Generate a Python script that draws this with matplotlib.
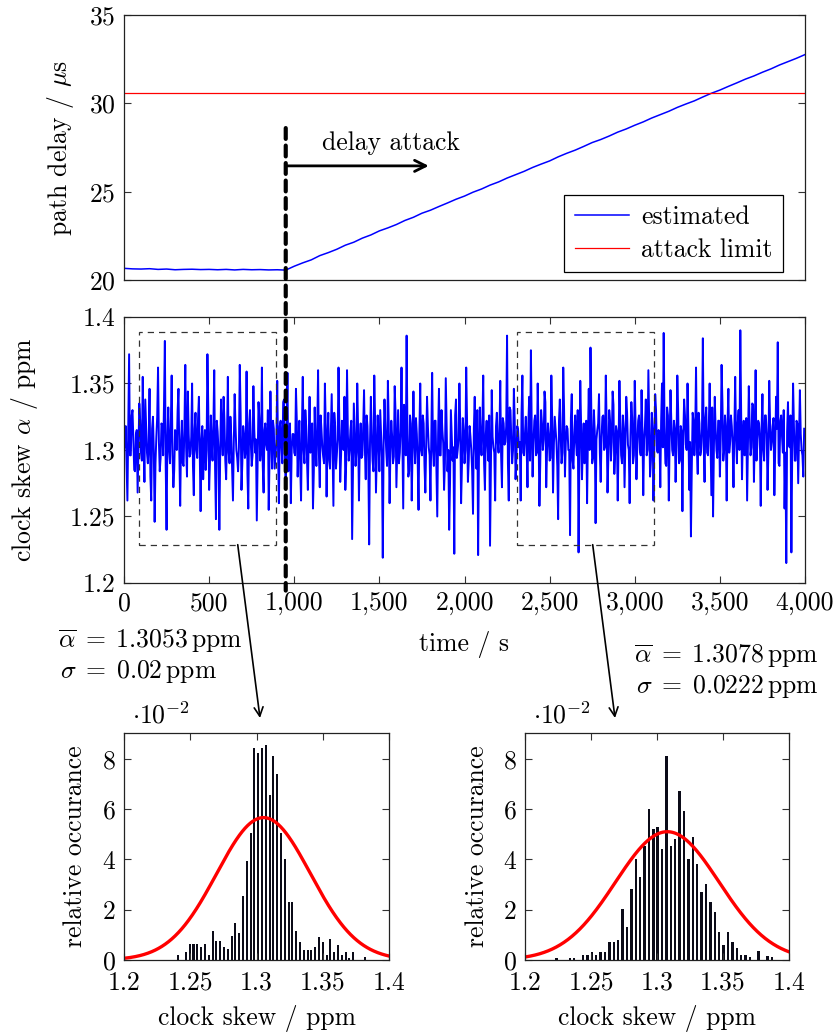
import numpy as np
import matplotlib.pyplot as plt
from matplotlib.patches import Rectangle, ConnectionPatch
from matplotlib.ticker import FuncFormatter

plt.rcParams['font.family'] = 'cmr10'
plt.rcParams['mathtext.fontset'] = 'cm'
plt.rcParams['axes.formatter.use_mathtext'] = True
plt.rcParams['font.size'] = 18.5

# ---- data ----
# path delay (us), sampled every 50 s
delay_time_s = list(range(0, 4001, 50))
delay_us = [20.66, 20.63, 20.62, 20.64, 20.60, 20.62, 20.58, 20.60, 20.61, 20.59,
            20.60, 20.58, 20.60, 20.57, 20.60, 20.58, 20.59, 20.57, 20.58, 20.56,
            20.78, 20.97, 21.14, 21.38, 21.55, 21.74, 21.97, 22.14, 22.37, 22.55,
            22.78, 22.95, 23.14, 23.37, 23.55, 23.78, 23.95, 24.16, 24.36, 24.57,
            24.75, 24.97, 25.15, 25.37, 25.55, 25.77, 25.96, 26.15, 26.37, 26.56,
            26.74, 26.97, 27.17, 27.35, 27.56, 27.78, 27.95, 28.15, 28.37, 28.55,
            28.76, 28.95, 29.17, 29.36, 29.55, 29.77, 29.96, 30.14, 30.36, 30.57,
            30.75, 30.96, 31.16, 31.37, 31.55, 31.76, 31.95, 32.17, 32.36, 32.55,
            32.76]
attack_limit_us = 30.6
attack_start_s = 950

# clock skew (ppm * 1000): samples at t = 0, 10, 20, ... (incl. the spikes)
skew_time_s = list(range(0, 4000, 10))
skew_ppb = [
    1305, 1318, 1262, 1372, 1296, 1330, 1285, 1312, 1268, 1335, 1298, 1355, 1276, 1318, 1290, 1346, 1262, 1325, 1246, 1310,
    1362, 1284, 1320, 1296, 1382, 1240, 1332, 1290, 1356, 1272, 1315, 1300, 1346, 1258, 1322, 1288, 1364, 1280, 1312, 1297,
    1350, 1266, 1328, 1294, 1340, 1254, 1318, 1302, 1285, 1372, 1270, 1326, 1292, 1360, 1248, 1314, 1240, 1338, 1296, 1322,
    1278, 1355, 1290, 1310, 1262, 1342, 1300, 1284, 1364, 1270, 1318, 1294, 1359, 1256, 1330, 1288, 1348, 1298, 1247, 1336,
    1292, 1362, 1268, 1320, 1300, 1255, 1344, 1286, 1316, 1296, 1352, 1260, 1322, 1290, 1338, 1275, 1358, 1305, 1260, 1312,
    1298, 1346, 1280, 1322, 1262, 1355, 1290, 1318, 1270, 1340, 1302, 1256, 1332, 1288, 1360, 1272, 1315, 1295, 1350, 1265,
    1328, 1286, 1342, 1258, 1318, 1296, 1362, 1276, 1322, 1300, 1270, 1360, 1292, 1315, 1233, 1335, 1288, 1350, 1262, 1320,
    1296, 1345, 1278, 1318, 1229, 1340, 1292, 1356, 1268, 1326, 1284, 1312, 1219, 1338, 1300, 1352, 1260, 1322, 1290, 1348,
    1272, 1330, 1298, 1362, 1256, 1318, 1386, 1280, 1326, 1262, 1344, 1290, 1312, 1255, 1350, 1296, 1320, 1268, 1340, 1302,
    1262, 1358, 1288, 1322, 1250, 1346, 1296, 1315, 1270, 1354, 1284, 1240, 1330, 1292, 1222, 1338, 1300, 1350, 1260, 1324,
    1290, 1362, 1276, 1318, 1300, 1252, 1340, 1286, 1221, 1332, 1296, 1356, 1270, 1322, 1292, 1228, 1345, 1302, 1262, 1328,
    1298, 1352, 1272, 1320, 1306, 1386, 1262, 1330, 1290, 1346, 1278, 1318, 1302, 1262, 1356, 1296, 1325, 1272, 1340, 1375,
    1280, 1322, 1296, 1350, 1258, 1330, 1300, 1344, 1272, 1320, 1292, 1356, 1268, 1325, 1306, 1248, 1338, 1290, 1362, 1280,
    1318, 1300, 1236, 1342, 1286, 1326, 1296, 1223, 1352, 1278, 1320, 1304, 1260, 1346, 1377, 1290, 1330, 1245, 1315, 1342,
    1276, 1325, 1300, 1356, 1268, 1330, 1292, 1344, 1282, 1318, 1262, 1352, 1296, 1326, 1272, 1340, 1304, 1260, 1336, 1290,
    1352, 1278, 1322, 1300, 1345, 1266, 1318, 1296, 1360, 1280, 1328, 1262, 1342, 1300, 1315, 1272, 1350, 1388, 1290, 1332,
    1262, 1345, 1300, 1322, 1276, 1356, 1290, 1318, 1254, 1338, 1304, 1350, 1270, 1235, 1328, 1296, 1362, 1282, 1320, 1300,
    1384, 1276, 1332, 1296, 1350, 1266, 1250, 1340, 1300, 1322, 1280, 1364, 1292, 1326, 1262, 1346, 1306, 1318, 1272, 1355,
    1290, 1330, 1390, 1278, 1322, 1300, 1262, 1348, 1296, 1335, 1276, 1360, 1304, 1320, 1258, 1342, 1292, 1326, 1270, 1352,
    1300, 1318, 1266, 1340, 1381, 1288, 1326, 1298, 1256, 1215, 1336, 1302, 1223, 1350, 1292, 1322, 1275, 1345, 1300, 1280,
]
# samples in between at t = 5, 15, 25, ... (the dense core of the band)
skew_mid_time_s = list(range(5, 4000, 10))
skew_mid_ppb = [
    1302, 1290, 1318, 1296, 1326, 1308, 1284, 1315, 1300, 1322, 1292, 1310, 1338, 1298, 1305, 1280, 1316, 1300, 1290, 1325,
    1306, 1294, 1318, 1335, 1288, 1310, 1300, 1320, 1296, 1285, 1312, 1330, 1298, 1306, 1290, 1318, 1302, 1344, 1295, 1310,
    1288, 1316, 1300, 1324, 1296, 1308, 1278, 1315, 1300, 1332, 1292, 1305, 1318, 1286, 1322, 1300, 1296, 1312, 1340, 1292,
    1310, 1298, 1325, 1285, 1306, 1318, 1294, 1302, 1328, 1290, 1312, 1300, 1282, 1320, 1305, 1296, 1316, 1308, 1291, 1324,
    1300, 1288, 1315, 1304, 1330, 1295, 1310, 1322, 1286, 1306, 1298, 1318, 1302, 1336, 1292, 1310, 1284, 1320, 1300, 1312,
    1296, 1322, 1305, 1288, 1316, 1300, 1330, 1292, 1310, 1298, 1320, 1284, 1306, 1315, 1296, 1326, 1302, 1290, 1318, 1308,
    1292, 1314, 1300, 1328, 1286, 1308, 1320, 1296, 1305, 1340, 1290, 1312, 1300, 1322, 1282, 1310, 1298, 1316, 1304, 1294,
    1318, 1300, 1326, 1290, 1306, 1312, 1284, 1322, 1298, 1308, 1330, 1294, 1304, 1316, 1288, 1320, 1300, 1310, 1295, 1328,
    1302, 1290, 1316, 1306, 1334, 1296, 1312, 1284, 1320, 1300, 1308, 1324, 1292, 1314, 1300, 1326, 1288, 1306, 1318, 1296,
    1310, 1300, 1322, 1286, 1312, 1296, 1330, 1305, 1290, 1318, 1300, 1275, 1312, 1302, 1326, 1294, 1308, 1320, 1288, 1314,
    1300, 1322, 1292, 1310, 1284, 1316, 1302, 1330, 1296, 1308, 1320, 1290, 1312, 1304, 1326, 1286, 1310, 1298, 1318, 1306,
    1312, 1296, 1324, 1304, 1318, 1290, 1332, 1308, 1300, 1322, 1294, 1315, 1306, 1328, 1298, 1312, 1302, 1320, 1292, 1316,
    1305, 1326, 1298, 1314, 1290, 1320, 1308, 1336, 1300, 1312, 1294, 1324, 1304, 1316, 1288, 1322, 1310, 1298, 1330, 1306,
    1316, 1300, 1324, 1292, 1312, 1306, 1330, 1296, 1318, 1304, 1290, 1322, 1310, 1300, 1328, 1294, 1314, 1308, 1320, 1298,
    1310, 1326, 1302, 1318, 1294, 1322, 1306, 1334, 1298, 1314, 1304, 1320, 1290, 1316, 1308, 1328, 1300, 1312, 1324, 1296,
    1318, 1304, 1326, 1296, 1314, 1308, 1338, 1300, 1320, 1292, 1316, 1306, 1330, 1298, 1312, 1322, 1302, 1318, 1288, 1326,
    1308, 1320, 1296, 1316, 1304, 1330, 1292, 1314, 1310, 1326, 1300, 1318, 1306, 1286, 1322, 1312, 1300, 1328, 1296, 1316,
    1306, 1324, 1298, 1318, 1310, 1332, 1302, 1316, 1294, 1322, 1308, 1336, 1300, 1314, 1320, 1298, 1326, 1304, 1316, 1310,
    1320, 1300, 1328, 1312, 1296, 1324, 1306, 1318, 1302, 1334, 1310, 1292, 1322, 1308, 1316, 1300, 1326, 1312, 1298, 1320,
    1306, 1324, 1300, 1316, 1290, 1322, 1310, 1330, 1298, 1314, 1304, 1326, 1300, 1318, 1292, 1320, 1308, 1312, 1296, 1316,
]

# zoom windows (time range, skew range)
win1_s = (90, 893)
win2_s = (2310, 3111)
win_skew = (1.2288, 1.3884)

# histograms: relative occurrence in units of 1e-2
hist1_first = 1.2410
hist1_width = 0.00287
hist1_vals = [0.2, 0, 0.33, 0.64, 0.64, 0.64, 0.53, 0.64, 0.2, 1.17, 0.74, 0.74, 0.53, 0.42,
              0.96, 1.49, 1.06, 2.55, 3.92, 5.07, 8.43, 8.23, 8.43, 8.54, 6.57, 8.13, 7.40,
              5.07, 4.01, 2.32, 2.32, 1.16, 0.73, 0.41, 0.41, 0.41, 0.53, 0.93, 0.73, 0.2,
              0.84, 0.31, 0.61, 0.2, 0.31, 0.09, 0.31, 0, 0, 0.12]
hist2_first = 1.2240
hist2_width = 0.003327
hist2_vals = [0.09, 0, 0, 0.09, 0.09, 0, 0.2, 0.2, 0.3, 0.2, 0.31, 0.31, 0.72, 0.72, 0.8,
              2.02, 1.31, 2.81, 4.01, 3.32, 4.52, 6.02, 5.22, 5.31, 4.42, 8.13, 4.52, 4.8,
              6.73, 5.94, 4.01, 4.91, 3.81, 2.70, 3.01, 2.30, 1.90, 1.10, 0.6, 1.10, 0.7,
              0.49, 0.2, 0.2, 0.1, 0, 0.35, 0, 0.15, 0.12]
mean1, sd1 = 1.3053, 0.02
mean2, sd2 = 1.3078, 0.0222
pdf_scale = 0.00284
curve_width_factor = 1.77   # drawn bell is wider than the quoted sigma

# ---- figure ----
W, H = 838, 1034
fig = plt.figure(figsize=(W / 100, H / 100), dpi=100)


def box(l, t, r, b):
    return [l / W, 1 - b / H, (r - l) / W, (b - t) / H]


def fpt(x, y):
    return (x / W, 1 - y / H)


def style(ax, xpad=6):
    ax.tick_params(direction='in', top=True, right=True, length=5, width=0.8,
                   color='#333333', pad=6)
    ax.tick_params(axis='x', pad=xpad)
    for s in ax.spines.values():
        s.set_linewidth(0.9)
        s.set_color('#222222')


fmt_g = FuncFormatter(lambda v, p: '%g' % round(v, 4))

# top: path delay
ax1 = fig.add_axes(box(124, 15, 805, 280))
style(ax1)
ax1.plot(delay_time_s, delay_us, color='#0000ff', lw=1.1, label='estimated')
ax1.axhline(attack_limit_us, color='#ff0000', lw=0.9, label='attack limit')
ax1.set_xlim(0, 4000)
ax1.set_ylim(20, 35)
ax1.set_xticks([])
ax1.set_yticks([20, 25, 30, 35])
leg = ax1.legend(loc='lower right', bbox_to_anchor=(0.968, 0.03), borderaxespad=0,
                 fancybox=False, framealpha=1, edgecolor='k', handlelength=2.1,
                 borderpad=0.4, labelspacing=0.35, handletextpad=0.5)
leg.get_frame().set_linewidth(0.9)
ax1.annotate('', xy=(1790, 26.46), xytext=(attack_start_s, 26.46),
             arrowprops=dict(arrowstyle='->', lw=2, color='k', mutation_scale=20,
                             shrinkA=0, shrinkB=0))
ax1.text(1570, 27.75, 'delay attack', ha='center', va='center')

# middle: clock skew
ax2 = fig.add_axes(box(124, 317, 805, 583))
style(ax2)
t_all = np.column_stack([skew_time_s, skew_mid_time_s]).ravel()
v_all = np.column_stack([skew_ppb, skew_mid_ppb]).ravel() / 1000
ax2.plot(t_all, v_all, color='#0000ff', lw=1.4)
ax2.set_xlim(0, 4000)
ax2.set_ylim(1.2, 1.4)
ax2.set_xticks(range(0, 4001, 500))
ax2.xaxis.set_major_formatter(FuncFormatter(lambda v, p: f'{v:,.0f}'))
ax2.set_yticks([1.2, 1.25, 1.3, 1.35, 1.4])
ax2.yaxis.set_major_formatter(fmt_g)
for w in (win1_s, win2_s):
    ax2.add_patch(Rectangle((w[0], win_skew[0]), w[1] - w[0], win_skew[1] - win_skew[0],
                            fill=False, ls=(0, (5, 4)), lw=0.9, ec='#333333', zorder=3))

# dashed attack marker crossing both panels
vline = ConnectionPatch(xyA=(attack_start_s, 28.6), coordsA=ax1.transData,
                        xyB=(attack_start_s, 1.1943), coordsB=ax2.transData,
                        color='k', lw=3, ls=(0, (2.6, 1.6)), zorder=5)
fig.add_artist(vline)

# bottom histograms
ax3 = fig.add_axes(box(124, 733, 389, 960))
ax4 = fig.add_axes(box(525, 733, 789, 960))
xs = np.linspace(1.2, 1.4, 400)
for ax, first, bw, vals, mu, sd in ((ax3, hist1_first, hist1_width, hist1_vals, mean1, sd1),
                                    (ax4, hist2_first, hist2_width, hist2_vals, mean2, sd2)):
    style(ax, xpad=8)
    centers = first + bw * np.arange(len(vals))
    ax.bar(centers, vals, width=0.55 * bw, color='#0b0b18', lw=0)
    peak = 100 * pdf_scale / (sd * np.sqrt(2 * np.pi))
    gauss = peak * np.exp(-0.5 * ((xs - mu) / (curve_width_factor * sd)) ** 2)
    ax.plot(xs, gauss, color='#ff0000', lw=2.4)
    ax.set_xlim(1.2, 1.4)
    ax.set_ylim(0, 9.03)
    ax.set_xticks([1.2, 1.25, 1.3, 1.35, 1.4])
    ax.xaxis.set_major_formatter(fmt_g)
    ax.set_yticks([0, 2, 4, 6, 8])
    ax.text(0.03, 1.02, r'$\cdot 10^{-2}$', transform=ax.transAxes, ha='left', va='bottom')

# arrows from windows to histograms
for xa, xb in ((668, 260), (2753, 615)):
    con = ConnectionPatch(xyA=(xa, win_skew[0]), coordsA=ax2.transData,
                          xyB=fpt(xb, 718), coordsB=fig.transFigure,
                          arrowstyle='->', lw=1.2, color='k', mutation_scale=16,
                          shrinkA=0, shrinkB=0)
    fig.add_artist(con)

# labels
fig.text(*fpt(60, 148), r'path delay / $\mu$s', rotation=90, ha='center', va='center')
fig.text(*fpt(24, 450), r'clock skew $\alpha$ / ppm', rotation=90, ha='center', va='center')
fig.text(*fpt(464, 645), 'time / s', ha='center', va='center')
for xl, xc in ((75, 256.5), (476.7, 657)):
    fig.text(*fpt(xl, 846.5), 'relative occurance', rotation=90, ha='center', va='center')
    fig.text(*fpt(xc, 1018), 'clock skew / ppm', ha='center', va='center')

fig.text(*fpt(58, 641.7), r'$\overline{\alpha}\;=\;1.3053\,\mathrm{ppm}$', ha='left', va='center')
fig.text(*fpt(60, 671.7), r'$\sigma\;=\;0.02\,\mathrm{ppm}$', ha='left', va='center')
fig.text(*fpt(634, 656.7), r'$\overline{\alpha}\;=\;1.3078\,\mathrm{ppm}$', ha='left', va='center')
fig.text(*fpt(636, 686.7), r'$\sigma\;=\;0.0222\,\mathrm{ppm}$', ha='left', va='center')

fig.savefig('out.png', dpi=100)
